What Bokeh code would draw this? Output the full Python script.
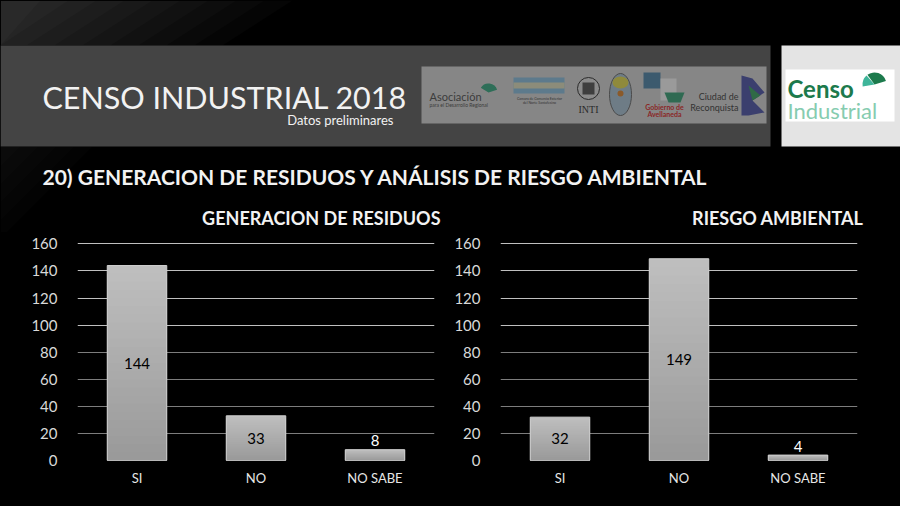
import numpy as np
from bokeh.plotting import figure
from bokeh.models import ColumnDataSource, Range1d, FactorRange, FixedTicker, Grid
from bokeh.layouts import column, row
from bokeh.embed import file_html
from bokeh.resources import INLINE
from bokeh.core.properties import value

# ---------------- data ----------------
categories = ["SI", "NO", "NO SABE"]
residuos = [144, 33, 8]
riesgo = [32, 149, 4]
y_ticks = [0, 20, 40, 60, 80, 100, 120, 140, 160]
title_main = "CENSO INDUSTRIAL 2018"
subtitle = "Datos preliminares"
heading = "20) GENERACION DE RESIDUOS Y ANÁLISIS DE RIESGO AMBIENTAL"
chart_titles = ["GENERACION DE RESIDUOS", "RIESGO AMBIENTAL"]

FONT = "Lato"
BG = "#000000"

# ---------------- header figure (page pixel coordinates) ----------------
top = figure(width=900, height=232, x_range=Range1d(0, 900), y_range=Range1d(232, 0),
             output_backend="svg", toolbar_location=None, min_border=0,
             background_fill_color=BG, border_fill_color=BG, outline_line_color=None)
top.axis.visible = False
top.grid.visible = False

# subtle diagonal sheen top-left
for k in range(10):
    w = 40 + k * 28
    top.patch([0, w, max(w - 70, 0), 0], [0, 0, 45, 45], color="#ffffff", alpha=0.02, line_color=None)
for k in range(5):
    w = 20 + k * 18
    top.patch([0, w, 0], [146, 146, 146 + w], color="#ffffff", alpha=0.012, line_color=None)

# header band and white box
top.quad(left=0, right=770, top=45, bottom=146, color="#444444", line_color=None)
top.quad(left=781, right=900, top=45, bottom=146, color="#e4e4e4", line_color=None)
top.quad(left=785, right=894, top=69, bottom=121, color="#ffffff", line_color=None)
top.text(x=[787], y=[88], text=["Censo"], text_font=value(FONT), text_font_style="bold",
         text_font_size="24px", text_color="#1c7a4c", text_baseline="middle")
top.text(x=[787], y=[110], text=["Industrial"], text_font=value(FONT),
         text_font_size="22px", text_color="#86ccb0", text_baseline="middle")
top.wedge(x=[874], y=[84], radius=12, start_angle=[0.3, 3.4], end_angle=[2.2, 5.3],
          color="#1c7a4c", line_color=None)
top.wedge(x=[874], y=[84], radius=12, start_angle=[2.3, 5.4], end_angle=[3.3, 6.2],
          color="#3fb59a", line_color=None)

# logo strip
top.quad(left=421, right=766, top=66, bottom=123, color="#868686", line_color=None)
top.text(x=[429], y=[96], text=["Asociación"], text_font=value(FONT),
         text_font_size="11px", text_color="#3c3c3c", text_baseline="middle")
top.text(x=[429], y=[104], text=["para el Desarrollo Regional"], text_font=value(FONT),
         text_font_size="5px", text_color="#3c3c3c", text_baseline="middle")
top.wedge(x=[488], y=[92], radius=9, start_angle=[0.3, 3.4], end_angle=[2.6, 5.7],
          color="#2e6e58", line_color=None)
top.quad(left=513, right=564, top=77, bottom=93, color="#5d7a8c", line_color=None)
top.quad(left=513, right=564, top=82, bottom=88, color="#8c8c7a", line_color=None)
top.text(x=[539], y=[98], text=["Camara de Comercio Exterior"], text_font=value(FONT),
         text_font_size="3.5px", text_color="#333333", text_align="center", text_baseline="middle")
top.text(x=[539], y=[102], text=["del Norte Santafesino"], text_font=value(FONT),
         text_font_size="3.5px", text_color="#333333", text_align="center", text_baseline="middle")
top.circle(x=[588], y=[88], radius=11, fill_color="#8a8a8a", line_color="#2a2a2a", line_width=1)
top.quad(left=582, right=594, top=82, bottom=94, fill_color="#2a2a2a", line_color=None, alpha=0.8)
top.text(x=[588], y=[109], text=["INTI"], text_font=value("Liberation Serif"),
         text_font_size="10px", text_color="#2a2a2a", text_align="center", text_baseline="middle")
top.ellipse(x=[620], y=[94], width=22, height=42, fill_color="#6e7c86", line_color="#4a4a4a")
top.ellipse(x=[620], y=[82], width=16, height=12, fill_color="#8f8a3c", line_color=None)
top.circle(x=[620], y=[93], radius=3, fill_color="#8a5a2a", line_color=None)
top.quad(left=643, right=660, top=72, bottom=88, color="#3c5a6e", line_color=None)
top.quad(left=660, right=676, top=78, bottom=100, color="#9a9a9a", line_color=None)
top.patch([664, 684, 680, 668], [92, 92, 102, 102], color="#2f6a52", line_color=None)
top.text(x=[664], y=[106], text=["Gobierno de"], text_font=value(FONT), text_font_style="bold",
         text_font_size="7px", text_color="#8a2626", text_align="center", text_baseline="middle")
top.text(x=[664], y=[113], text=["Avellaneda"], text_font=value(FONT), text_font_style="bold",
         text_font_size="7px", text_color="#8a2626", text_align="center", text_baseline="middle")
top.text(x=[738], y=[96], text=["Ciudad de"], text_font=value(FONT),
         text_font_size="9px", text_color="#333333", text_align="right", text_baseline="middle")
top.text(x=[738], y=[107], text=["Reconquista"], text_font=value(FONT),
         text_font_size="9px", text_color="#333333", text_align="right", text_baseline="middle")
top.patch([741, 752, 764, 752, 764, 748, 741], [75, 78, 92, 100, 112, 115, 115],
          color="#3b3f6e", line_color=None)
top.patch([748, 760, 752], [85, 95, 100], color="#2f6a46", line_color=None)

# titles
top.text(x=[42], y=[96], text=[title_main], text_font=value(FONT), text_font_size="30.5px",
         text_color="#f2f2f2", text_baseline="middle")
top.text(x=[393], y=[119], text=[subtitle], text_font=value(FONT), text_font_size="13px",
         text_color="#f2f2f2", text_align="right", text_baseline="middle")
top.text(x=[42], y=[176], text=[heading], text_font=value(FONT), text_font_style="bold",
         text_font_size="21px", text_color="#f2f2f2", text_baseline="middle")
top.text(x=[440, 863], y=[217, 217], text=chart_titles, text_font=value(FONT),
         text_font_style="bold", text_font_size="18px", text_color="#f2f2f2",
         text_align="right", text_baseline="middle")


# ---------------- bar charts ----------------
def hex_mix(c1, c2, t):
    a = np.array([int(c1[i:i + 2], 16) for i in (1, 3, 5)], dtype=float)
    b = np.array([int(c2[i:i + 2], 16) for i in (1, 3, 5)], dtype=float)
    m = a + (b - a) * t
    return "#%02x%02x%02x" % tuple(int(round(v)) for v in m)


def bar_chart(vals, width, left, right):
    p = figure(width=width, height=274, x_range=FactorRange(*categories), y_range=Range1d(0, 161),
               output_backend="svg", toolbar_location=None,
               min_border_left=left, min_border_right=right, min_border_top=10, min_border_bottom=46,
               background_fill_color=BG, border_fill_color=BG, outline_line_color=None)
    p.xgrid.visible = False
    p.ygrid.visible = False
    light = Grid(dimension=1, ticker=FixedTicker(ticks=[t for t in y_ticks if t == 0 or t >= 100]),
                 grid_line_color="#bfbfbf", grid_line_width=1)
    dark = Grid(dimension=1, ticker=FixedTicker(ticks=[t for t in y_ticks if 0 < t < 100]),
                grid_line_color="#7d7d7d", grid_line_width=1)
    p.add_layout(light)
    p.add_layout(dark)

    # vertical gradient: overlapping bars from full height down to short, lighter at top
    v = np.array(vals, dtype=float)
    n = 24
    for i in range(n, 0, -1):
        src = ColumnDataSource(dict(x=categories, t=v * i / n))
        p.vbar(x="x", bottom=0, top="t", width=0.5, source=src,
               fill_color=hex_mix("#999999", "#bfbfbf", (i - 0.5) / n), line_color=None)
    p.vbar(x=categories, top=vals, width=0.5, fill_color=None, line_color="#cfcfcf", line_width=1)

    inside = v >= 20
    lab = ColumnDataSource(dict(
        x=categories,
        y=np.where(inside, v / 2, v),
        text=[str(int(a)) for a in vals],
        color=["#000000" if f else "#ffffff" for f in inside],
        dy=[0 if f else -9 for f in inside],
    ))
    p.text(x="x", y="y", text="text", source=lab, text_color="color", text_baseline="middle",
           text_align="center", text_font=value(FONT), text_font_size="15px", y_offset="dy")

    p.yaxis.ticker = FixedTicker(ticks=y_ticks)
    p.yaxis.axis_line_color = None
    p.yaxis.major_tick_line_color = None
    p.yaxis.minor_tick_line_color = None
    p.yaxis.major_label_standoff = 14
    p.yaxis.major_label_text_color = "#d9d9d9"
    p.yaxis.major_label_text_font = FONT
    p.yaxis.major_label_text_font_size = "15px"

    p.xaxis.axis_line_color = None
    p.xaxis.major_tick_line_color = None
    p.xaxis.major_label_standoff = 3
    p.xaxis.major_label_text_color = "#e6e6e6"
    p.xaxis.major_label_text_font = FONT
    p.xaxis.major_label_text_font_size = "13px"
    return p


c1 = bar_chart(residuos, 450, 77, 16)
c2 = bar_chart(riesgo, 450, 50, 43)

layout = column(top, row(c1, c2, spacing=0), spacing=0)

html = file_html(layout, INLINE)
html = html.replace("<head>", "<head><style>body{background:#000000;}</style>", 1)
open("out.html", "w").write(html)
